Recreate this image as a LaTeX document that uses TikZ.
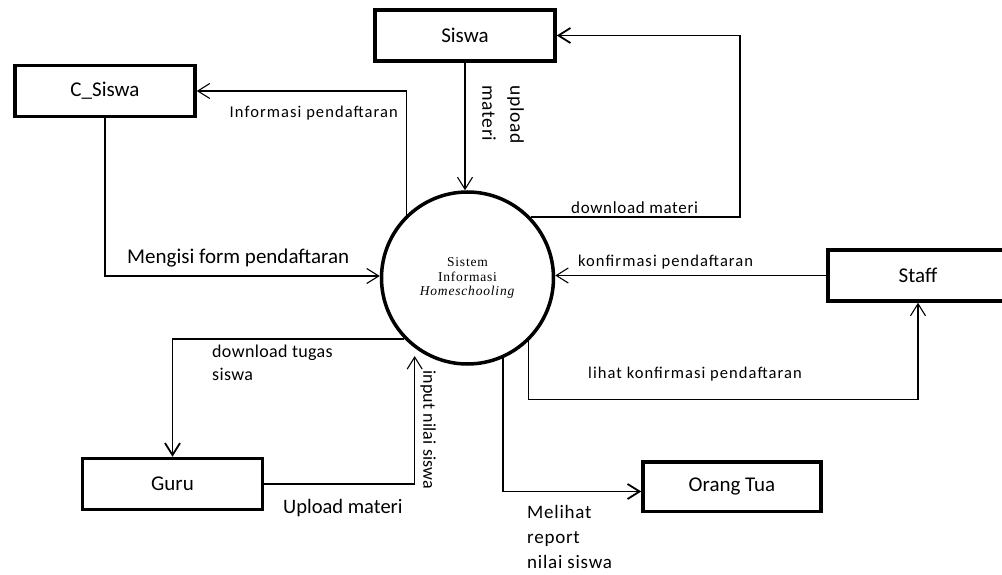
\documentclass[tikz,border=0pt]{standalone}
\usepackage{fontspec}
\setmainfont{Carlito}
\newfontfamily\sysfont[LetterSpace=6]{Liberation Serif}
\newcommand{\spaced}[1]{\addfontfeature{LetterSpace=#1}}
\usetikzlibrary{arrows.meta}

\begin{document}
\begin{tikzpicture}[x=1pt,y=-1pt,
  entity/.style={draw, line width=3.5pt, inner sep=0pt,
    minimum width=180pt, minimum height=51pt,
    font=\fontsize{21}{25}\selectfont},
  proc/.style={draw, circle, line width=3.5pt, minimum size=172pt,
    inner sep=0pt, align=center,
    font=\sysfont\fontsize{13.5}{14.5}\selectfont},
  flow/.style={line width=1.1pt, -{Straight Barb[length=12pt,width=15pt]}},
  bold flow/.style={flow, line width=1.8pt},
  lbl/.style={inner sep=0pt, align=left},
  small/.style={lbl, font=\fontsize{16.5}{23}\selectfont\spaced{6.5}},
  large/.style={lbl, font=\fontsize{21}{25}\selectfont},
]
\useasboundingbox (0,0) rectangle (1002,575);
\clip (0,0) rectangle (1002,575);

% external entities
\node[entity] (siswa)  at (465,35.5)  {Siswa};
\node[entity] (csiswa) at (105,91)    {C\_Siswa};
\node[entity] (guru)   at (172.5,484) {Guru};
\node[entity] (staff)  at (918,275.5) {Staff};
\node[entity, minimum width=178pt, minimum height=49.5pt] (ortu) at (732,486.5) {Orang Tua};

% the process
\node[proc] (sys) at (467.5,278) {Sistem\\Informasi\\\textit{Homeschooling}};

% data flows
\draw[flow] (siswa.south) -- (siswa.south |- sys.north);
\draw[bold flow] (sys.44) -| ([xshift=183pt]siswa.east) -- (siswa.east);
\draw[flow] (sys.134) |- (csiswa.east);
\draw[flow] (csiswa.south) |- ([yshift=2pt]sys.west);
\draw[flow] (staff.west) -- (staff.west -| sys.east);
\draw[flow] (sys.314) |- ([yshift=-97pt]staff.south) -- (staff.south);
\draw[bold flow] (sys.294) |- ([yshift=-5pt]ortu.west);
\draw[bold flow] (sys.224) -| (guru.north);
\draw[flow, shorten >=8pt] (guru.east) -| (sys.233);

% flow labels
\node[small, anchor=base east] (linfo) at (398,117.7) {Informasi pendaftaran};
\node[lbl, anchor=base west, font=\fontsize{17}{23}\selectfont\spaced{4}] (ldlmat) at (571,213.3) {download materi};
\node[small, anchor=base west] (lkonf) at (578,266.7) {konfirmasi pendaftaran};
\node[small, anchor=base west] (llihat) at (588,378.3) {lihat konfirmasi pendaftaran};
\node[large, anchor=base west] (lisi) at (127,263) {Mengisi form pendaftaran};
\node[lbl, anchor=north west, font=\fontsize{18}{23}\selectfont\spaced{2}] (ltugas) at (212,345) {download tugas\\siswa};
\node[large, anchor=base west, font=\fontsize{20.5}{25}\selectfont] (lupguru) at (283,513.3) {Upload materi};
\node[lbl, rotate=-90, anchor=base west, font=\fontsize{18}{23}\selectfont\spaced{1}] (lnilai) at (423.3,370) {input nilai siswa};
\node[lbl, rotate=-90, anchor=north west, font=\fontsize{19.5}{28}\selectfont\spaced{4}] (lupsiswa) at (524,85) {upload\\materi};
\node[lbl, anchor=north west, font=\fontsize{19}{25}\selectfont\spaced{4}] (lreport) at (527,505.5) {Melihat\\report\\nilai siswa};
\end{tikzpicture}
\end{document}
